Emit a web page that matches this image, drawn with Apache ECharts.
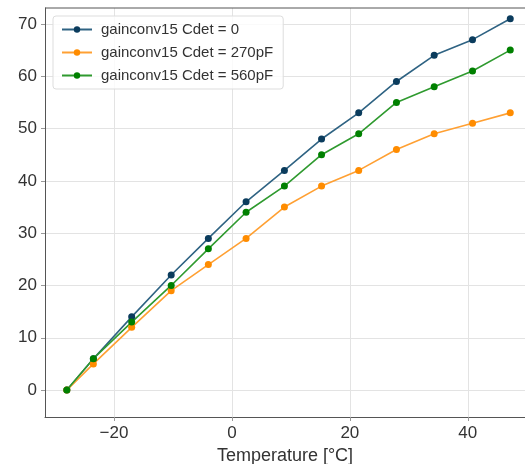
<!DOCTYPE html>
<html>
<head>
<meta charset="utf-8">
<script src="https://cdn.jsdelivr.net/npm/echarts@6/dist/echarts.min.js"></script>
<style>
  html, body { margin: 0; padding: 0; background: #fff; }
  #chart { width: 525px; height: 464px; }
</style>
</head>
<body>
<div id="chart"></div>
<script>
// Temperature sweep points [°C]
const temperatures = [-28, -23.5, -17, -10.3, -4, 2.4, 8.9, 15.2, 21.5, 27.9, 34.3, 40.8, 47.2];

// Gain values per detector capacitance
const gainCdet0 = [0, 6, 14, 22, 29, 36, 42, 48, 53, 59, 64, 67, 71];
const gainCdet270 = [0, 5, 12, 19, 24, 29, 35, 39, 42, 46, 49, 51, 53];
const gainCdet560 = [0, 6, 13, 20, 27, 34, 39, 45, 49, 55, 58, 61, 65];

const seriesNames = ['gainconv15 Cdet = 0', 'gainconv15 Cdet = 270pF', 'gainconv15 Cdet = 560pF'];

const xTicks = [-20, 0, 20, 40];
const yTicks = [0, 10, 20, 30, 40, 50, 60, 70];

const FONT = 'Liberation Sans, Arial, sans-serif';

function pairs(xs, ys) {
  return xs.map((x, i) => [x, ys[i]]);
}

function lineSeries(name, values, lineColor, markerColor) {
  return {
    name: name,
    type: 'line',
    data: pairs(temperatures, values),
    symbol: 'circle',
    symbolSize: 7,
    showSymbol: true,
    lineStyle: { color: lineColor, width: 1.6 },
    itemStyle: { color: markerColor },
    emphasis: { disabled: true },
    animation: false
  };
}

const chart = echarts.init(document.getElementById('chart'), null, { renderer: 'canvas' });

chart.setOption({
  backgroundColor: '#ffffff',
  animation: false,
  grid: { left: 45, right: 0, top: 8, bottom: 47, containLabel: false, outerBoundsMode: 'none' },
  legend: {
    left: 53,
    top: 16,
    orient: 'vertical',
    itemGap: 8,
    itemWidth: 30,
    itemHeight: 8,
    padding: [6, 10, 6, 8],
    backgroundColor: 'rgba(255,255,255,0.8)',
    borderColor: '#dddddd',
    borderWidth: 1,
    borderRadius: 3,
    textStyle: { fontFamily: FONT, fontSize: 15, color: '#333333', padding: [0, 0, 0, 4] },
    data: seriesNames
  },
  xAxis: {
    type: 'value',
    min: -31.7,
    max: 49.7,
    name: 'Temperature [°C]',
    nameLocation: 'middle',
    nameGap: 25,
    nameTextStyle: { fontFamily: FONT, fontSize: 18, color: '#333333' },
    axisLine: { show: true, onZero: false, lineStyle: { color: '#555555', width: 1 } },
    axisTick: { show: true, length: 4, lineStyle: { color: '#999999' }, customValues: xTicks },
    axisLabel: {
      fontFamily: FONT, fontSize: 17, color: '#333333', margin: 8,
      customValues: xTicks,
      formatter: v => (v < 0 ? '\u2212' + Math.abs(v) : String(v))
    },
    splitLine: { show: true, lineStyle: { color: '#e3e3e3', width: 1 } }
  },
  yAxis: {
    type: 'value',
    min: -5.15,
    max: 73.05,
    axisLine: { show: true, onZero: false, lineStyle: { color: '#555555', width: 1 } },
    axisTick: { show: true, length: 4, lineStyle: { color: '#999999' }, customValues: yTicks },
    axisLabel: {
      fontFamily: FONT, fontSize: 17, color: '#333333', margin: 8,
      customValues: yTicks
    },
    splitLine: { show: true, lineStyle: { color: '#e3e3e3', width: 1 } }
  },
  series: [
    lineSeries(seriesNames[0], gainCdet0, '#2f6383', '#0b3c5d'),
    lineSeries(seriesNames[1], gainCdet270, '#ffa033', '#ff8c00'),
    lineSeries(seriesNames[2], gainCdet560, '#2f9a2f', '#008000')
  ]
});

// Top frame line of the plot area
chart.setOption({
  graphic: [{
    type: 'line',
    shape: { x1: 45, y1: 8, x2: 525, y2: 8 },
    style: { stroke: '#555555', lineWidth: 1 },
    silent: true
  }]
});
</script>
</body>
</html>
